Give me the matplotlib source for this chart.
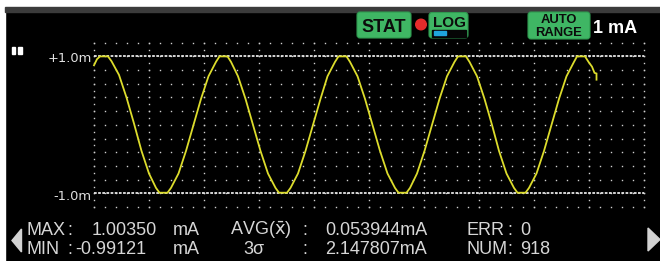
import numpy as np
import matplotlib
matplotlib.use("Agg")
import matplotlib.pyplot as plt
from matplotlib.patches import Rectangle, FancyBboxPatch, Circle, Polygon
from matplotlib.transforms import Affine2D

# trace: sample index vs current (mA)
trace_x = [0, 3, 6, 14, 17.5, 25, 32.5, 40, 47.5, 55, 62, 65.5,
           73.5, 77, 84.5, 92, 99.5, 107, 114.5, 122, 125.5,
           133.5, 137, 144, 151.5, 159, 166.5, 174, 181.5, 185,
           193, 196.5, 204, 211.5, 219, 226.5, 233.5, 241, 244.5,
           252.5, 256, 263.5, 271, 278.5, 286, 293.5, 301, 304.5,
           312.5, 316, 323, 330.5, 338, 345.5, 353, 360.5, 364,
           372, 375.5, 383, 390.5, 398, 405, 412.5, 420, 423.5,
           431.5, 435, 442.5, 450, 457.5, 465, 472.5, 480, 483,
           491, 494.5, 498, 500.5, 502.5, 502.5]
trace_y = [0.87, 0.96, 1.0, 1.0, 0.93, 0.73, 0.40, 0.02, -0.38, -0.71, -0.92, -0.99,
           -0.99, -0.92, -0.71, -0.38, 0.0, 0.38, 0.71, 0.92, 1.0,
           1.0, 0.92, 0.71, 0.38, 0.0, -0.38, -0.71, -0.92, -0.99,
           -0.99, -0.92, -0.71, -0.38, 0.0, 0.38, 0.71, 0.92, 1.0,
           1.0, 0.92, 0.71, 0.38, 0.0, -0.38, -0.71, -0.92, -0.99,
           -0.99, -0.92, -0.71, -0.38, 0.0, 0.38, 0.71, 0.92, 1.0,
           1.0, 0.92, 0.71, 0.38, 0.0, -0.38, -0.71, -0.92, -0.99,
           -0.99, -0.92, -0.71, -0.38, 0.0, 0.38, 0.71, 0.92, 1.0,
           1.0, 0.92, 0.85, 0.76, 0.75, 0.66]

range_top = 1.0
range_bottom = -1.0
top_label = "+1.0m"
bottom_label = "-1.0m"
range_text = "1 mA"
unit = "mA"

stat_max = "1.00350"
stat_min = "-0.99121"
stat_avg = "0.053944"
stat_3sigma = "2.147807"
stat_err = "0"
stat_num = "918"

FONT = "Liberation Sans"

W, H = 660, 261
fig = plt.figure(figsize=(W / 100, H / 100), dpi=100, facecolor="black")
# image pixel coordinates (y down) -> figure
px = Affine2D().scale(1 / W, -1 / H).translate(0, 1) + fig.transFigure

# screen frame: white margin, grey strip at the top
fig.patches.append(Rectangle((0, 0), W, 7.3, transform=px, color="white"))
fig.patches.append(Rectangle((0, 0), 5, H, transform=px, color="white"))
fig.patches.append(Rectangle((5, 7.3), W - 5, 4.4, transform=px, color="#3b3b3b"))

# plot area
ax = fig.add_axes([94 / W, (H - 207.1) / H, 550 / W, (207.1 - 42.7) / H])
ax.set_facecolor("black")
ax.set_xlim(0, 550)
ax.set_ylim(-1.2, 1.2)
ax.axis("off")

dot = "#cfcfcf"
rows = np.round(np.arange(-1.2, 1.21, 0.2), 2)
minor_x = np.arange(0, 551, 11)
gx, gy = np.meshgrid(minor_x, rows)
ax.plot(gx.ravel(), gy.ravel(), "s", ms=1.0, mew=0, color=dot, clip_on=False)
major_x = np.arange(0, 551, 55)
col_y = np.round(np.arange(-1.2, 1.21, 0.1), 2)
gx, gy = np.meshgrid(major_x, col_y)
ax.plot(gx.ravel(), gy.ravel(), "s", ms=1.0, mew=0, color=dot, clip_on=False)

for lvl in (range_top, range_bottom):
    ax.axhline(lvl, color="#e6e6e6", lw=1.3, dashes=(1.5, 0.8), clip_on=False)

ax.plot(trace_x, trace_y, color="#dcdc2c", lw=1.3, clip_on=False,
        solid_joinstyle="miter")


def txt(x, y, s, size, color="#d6d6d6", family=FONT, weight="normal",
        ha="left", va="baseline"):
    fig.text(x, y, s, transform=px, fontsize=size, color=color,
             family=family, weight=weight, ha=ha, va=va)


txt(92, 62.5, top_label, 9.4, color="#e0e0e0", family="DejaVu Sans", ha="right")
txt(92, 199.5, bottom_label, 9.4, color="#e0e0e0", family="DejaVu Sans", ha="right")

# pause symbol
for bx in (11.5, 18.3):
    fig.patches.append(Rectangle((bx, 46.5), 3.6, 7.8, transform=px, color="white"))

# status boxes
green = "#3fb664"
for x0, y0, w, h in [(357, 12, 54, 26), (429, 12.5, 39, 25.5), (528, 12, 62, 27)]:
    fig.patches.append(FancyBboxPatch((x0, y0), w, h, transform=px,
                                      boxstyle="round,pad=0,rounding_size=3",
                                      fc=green, ec="#2f9a50", lw=0.8))
txt(384, 31.5, "STAT", 13, color="#0c0c0c", weight="bold", ha="center")
fig.patches.append(Circle((421, 24.5), 5.3, transform=px, color="#e52b2b"))
txt(449, 27.3, "LOG", 11, color="#0c0c0c", weight="bold", ha="center")
fig.patches.append(Rectangle((432, 29.5), 34, 7, transform=px, color="#050505"))
fig.patches.append(Rectangle((434, 31.3), 12, 3.6, transform=px, color="#1fa5dc"))
txt(559, 23.3, "AUTO", 9.4, color="#0c0c0c", weight="bold", ha="center")
txt(558.5, 36, "RANGE", 9.4, color="#0c0c0c", weight="bold", ha="center")
txt(593, 33.3, range_text, 13, color="white", weight="bold")

# statistics lines
y1, y2 = 235, 254
fs = 13
txt(27, y1, "MAX", fs)
txt(67, y1, ":", fs)
txt(92, y1, stat_max, fs)
txt(173, y1, unit, fs)
txt(27, y2, "MIN", fs)
txt(67, y2, ":", fs)
txt(75, y2, stat_min, fs)
txt(173, y2, unit, fs)

txt(230, y1, r"AVG($\bar{\mathrm{x}}$)", fs)
txt(302, y1, ":", fs)
txt(325, y1, stat_avg + unit, fs)
txt(243, y2, "3\u03c3", fs)
txt(302, y2, ":", fs)
txt(325, y2, stat_3sigma + unit, fs)

txt(467, y1, "ERR", fs)
txt(507, y1, ":", fs)
txt(520, y1, stat_err, fs)
txt(467, y2, "NUM", fs)
txt(507, y2, ":", fs)
txt(520, y2, stat_num, fs)

# page arrows
arrow = "#d2d2d2"
fig.patches.append(Polygon([(21.5, 229), (21.5, 252), (12, 240.5)], transform=px, color=arrow))
fig.patches.append(Polygon([(648, 228), (648, 251), (660, 239.5)], transform=px, color=arrow))

fig.savefig("out.png", dpi=100, facecolor=fig.get_facecolor())
